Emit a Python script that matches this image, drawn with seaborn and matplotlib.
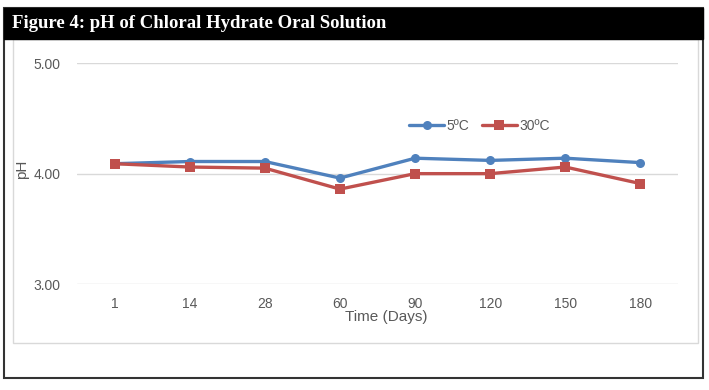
# pH of Chloral Hydrate Oral Solution - stability chart
import matplotlib
matplotlib.use('Agg')

import matplotlib.pyplot as plt
from matplotlib.patches import Rectangle
import seaborn as sns
import pandas as pd

# Data
days = ['1', '14', '28', '60', '90', '120', '150', '180']
ph_5c = [4.09, 4.11, 4.11, 3.96, 4.14, 4.12, 4.14, 4.10]
ph_30c = [4.09, 4.06, 4.05, 3.86, 4.00, 4.00, 4.06, 3.91]
temps = ['5ºC', '30ºC']
y_ticks = [3.00, 4.00, 5.00]

df = pd.DataFrame({
    'Day': days * 2,
    'pH': ph_5c + ph_30c,
    'Temp': [temps[0]] * len(days) + [temps[1]] * len(days),
})

sns.set_style('white')
plt.rcParams['font.family'] = ['Liberation Sans', 'DejaVu Sans']

fig = plt.figure(figsize=(7.09, 3.9), dpi=100)
W, H = 709, 390

def box(x0, y0, x1, y1, **kw):
    # pixel box (top-left origin) -> figure fraction
    fig.add_artist(Rectangle((x0 / W, 1 - y1 / H), (x1 - x0) / W, (y1 - y0) / H,
                             transform=fig.transFigure, **kw))

# outer frame, header bar and inner chart box
box(4, 8, 703, 378, facecolor='white', edgecolor='#333333', linewidth=1.5, zorder=0)
box(13, 39, 698, 343, facecolor='white', edgecolor='#d9d9d9', linewidth=1.0, zorder=0)
box(4, 8, 703, 39, facecolor='black', edgecolor='black', linewidth=1.0, zorder=1)
fig.text(12 / W, 1 - 24 / H, 'Figure 4: pH of Chloral Hydrate Oral Solution',
         color='white', fontsize=13.5, fontweight='bold', family='Liberation Serif',
         va='center', ha='left')

ax = fig.add_axes([77 / W, 1 - 284 / H, 601 / W, 220.7 / H])
ax.set_facecolor('none')

sns.lineplot(data=df, x='Day', y='pH', hue='Temp', style='Temp',
             palette={temps[0]: '#4F81BD', temps[1]: '#C0504D'},
             markers={temps[0]: 'o', temps[1]: 's'}, dashes=False,
             linewidth=2.4, markersize=6.5, markeredgewidth=0, legend=False, ax=ax)

ax.set_xlim(-0.5, len(days) - 0.5)
ax.set_ylim(3, 5)
ax.set_yticks(y_ticks)
ax.set_yticklabels([f'{v:.2f}' for v in y_ticks])
ax.grid(axis='y', color='#d9d9d9', linewidth=1)
ax.grid(axis='x', visible=False)
for s in ax.spines.values():
    s.set_visible(False)
ax.tick_params(axis='both', length=0, labelsize=10, colors='#595959')
ax.tick_params(axis='y', pad=12)
ax.tick_params(axis='x', pad=9)

ax.set_xlabel('Time (Days)', fontsize=11, color='#595959')
ax.set_ylabel('pH', fontsize=11, color='#595959')
ax.xaxis.set_label_coords(0.514, -0.118)
ax.yaxis.set_label_coords(-0.080, 0.52)

# legend in the plot area, one row
ax.legend(ax.lines[:2], temps, loc='center', bbox_to_anchor=(0.670, 0.717),
          ncol=2, frameon=False, fontsize=10, handlelength=2.5,
          handletextpad=0.2, columnspacing=0.9, labelcolor='#595959')

fig.savefig('out.png', dpi=100)
